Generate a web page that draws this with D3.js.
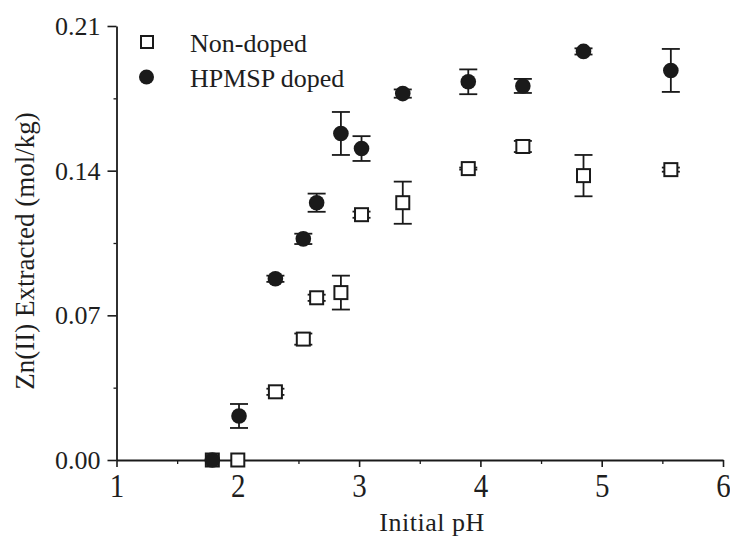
<!DOCTYPE html>
<html>
<head>
<meta charset="utf-8">
<title>Zn(II) extracted vs initial pH</title>
<script src="https://d3js.org/d3.v7.min.js"></script>
<style>
  body { margin: 0; background: #fff; }
  svg text { font-family: "Liberation Serif", "Times New Roman", serif; fill: #1e1e1e; }
</style>
</head>
<body>
<div id="chart"></div>
<script>
// data
const phNon = [1.79, 2.00, 2.31, 2.54, 2.65, 2.85, 3.02, 3.36, 3.90, 4.35, 4.85, 5.57];
const valNon = [0.000, 0.000, 0.033, 0.0585, 0.0785, 0.081, 0.1187, 0.1245, 0.141, 0.1517, 0.1376, 0.1405];
const errNon = [0.000, 0.000, 0.0015, 0.0027, 0.0015, 0.0082, 0.0015, 0.0102, 0.0005, 0.0027, 0.0100, 0.0010];

const phDoped = [1.79, 2.01, 2.31, 2.54, 2.65, 2.85, 3.02, 3.36, 3.90, 4.35, 4.85, 5.57];
const valDoped = [0.000, 0.0213, 0.0877, 0.107, 0.1245, 0.158, 0.1507, 0.1773, 0.183, 0.181, 0.1977, 0.1885];
const errDoped = [0.000, 0.0058, 0.0015, 0.0025, 0.0044, 0.0104, 0.0060, 0.0020, 0.0060, 0.0034, 0.0015, 0.0104];

const xTicks = [1, 2, 3, 4, 5, 6];
const xMinor = [1.5, 2.5, 3.5, 4.5, 5.5];
const yTicks = [0, 0.07, 0.14, 0.21];
const yMinor = [0.035, 0.105, 0.175];
const seriesNames = ["Non-doped", "HPMSP doped"];

const width = 730, height = 537;
const ink = "#1a1a1a";
const serif = "'Liberation Serif', 'Times New Roman', serif";

const svg = d3.select("#chart").append("svg")
    .attr("width", width)
    .attr("height", height)
    .style("background", "#fff");

const x = d3.scaleLinear().domain([1, 6]).range([116.5, 723]);
const y = d3.scaleLinear().domain([0, 0.21]).range([460, 26]);

// minor ticks first so the main axis sits on top
svg.append("g")
    .attr("transform", "translate(0,460)")
    .call(d3.axisBottom(x).tickValues(xMinor).tickSize(4).tickFormat("").tickSizeOuter(0))
    .call(g => g.select(".domain").remove())
    .selectAll("line").attr("stroke", ink).attr("stroke-width", 1.3);

svg.append("g")
    .attr("transform", "translate(116.5,0)")
    .call(d3.axisLeft(y).tickValues(yMinor).tickSize(3).tickFormat("").tickSizeOuter(0))
    .call(g => g.select(".domain").remove())
    .selectAll("line").attr("stroke", ink).attr("stroke-width", 1.3);

const xAxis = svg.append("g")
    .attr("transform", "translate(0,460)")
    .call(d3.axisBottom(x).tickValues(xTicks).tickSize(7).tickSizeOuter(0).tickFormat(d3.format("d")))
    .attr("font-family", serif);
xAxis.select(".domain").attr("stroke", ink).attr("stroke-width", 1.8);
xAxis.selectAll(".tick line").attr("stroke", ink).attr("stroke-width", 1.6);
xAxis.selectAll(".tick text")
    .attr("fill", "#1e1e1e")
    .style("font-family", serif)
    .style("font-size", "29px")
    .attr("y", 0)
    .attr("dy", 0)
    .attr("transform", "translate(0,37) scale(1,1.15)");

const yAxis = svg.append("g")
    .attr("transform", "translate(116.5,0)")
    .call(d3.axisLeft(y).tickValues(yTicks).tickSize(9).tickSizeOuter(0).tickPadding(7).tickFormat(d3.format(".2f")))
    .attr("font-family", serif);
yAxis.select(".domain").attr("stroke", ink).attr("stroke-width", 1.8);
yAxis.selectAll(".tick line").attr("stroke", ink).attr("stroke-width", 1.6);
yAxis.selectAll(".tick text")
    .attr("fill", "#1e1e1e")
    .style("font-family", serif)
    .style("font-size", "26px")
    .attr("dy", "0.33em");

// axis titles
svg.append("text")
    .attr("x", 432)
    .attr("y", 531)
    .attr("text-anchor", "middle")
    .style("font-size", "26px")
    .style("letter-spacing", "0.5px")
    .text("Initial pH");

svg.append("text")
    .attr("transform", "translate(34,251) rotate(-90)")
    .attr("text-anchor", "middle")
    .style("font-size", "27px")
    .text("Zn(II) Extracted (mol/kg)");

function rows(ph, val, err) {
    return ph.map((p, i) => ({ ph: p, v: val[i], e: err[i] }));
}
const nonDoped = rows(phNon, valNon, errNon);
const doped = rows(phDoped, valDoped, errDoped);

function errorBars(data, cls) {
    const g = svg.append("g").attr("class", cls)
        .attr("stroke", ink).attr("stroke-width", 1.8);
    const withErr = data.filter(d => d.e > 0);
    g.selectAll("line.stem").data(withErr).join("line")
        .attr("class", "stem")
        .attr("x1", d => x(d.ph)).attr("x2", d => x(d.ph))
        .attr("y1", d => y(d.v + d.e)).attr("y2", d => y(d.v - d.e));
    g.selectAll("line.top").data(withErr).join("line")
        .attr("class", "top")
        .attr("x1", d => x(d.ph) - 9).attr("x2", d => x(d.ph) + 9)
        .attr("y1", d => y(d.v + d.e)).attr("y2", d => y(d.v + d.e));
    g.selectAll("line.bot").data(withErr).join("line")
        .attr("class", "bot")
        .attr("x1", d => x(d.ph) - 9).attr("x2", d => x(d.ph) + 9)
        .attr("y1", d => y(d.v - d.e)).attr("y2", d => y(d.v - d.e));
}

errorBars(nonDoped, "err-non");
svg.append("g").selectAll("rect").data(nonDoped).join("rect")
    .attr("x", d => x(d.ph) - 6.5)
    .attr("y", d => y(d.v) - 6.5)
    .attr("width", 13).attr("height", 13)
    .attr("fill", "#fff")
    .attr("stroke", ink)
    .attr("stroke-width", 2);

errorBars(doped, "err-doped");
svg.append("g").selectAll("circle").data(doped).join("circle")
    .attr("cx", d => x(d.ph))
    .attr("cy", d => y(d.v))
    .attr("r", 7.8)
    .attr("fill", ink);

// legend
const legend = svg.append("g");
legend.append("rect")
    .attr("x", 141).attr("y", 36).attr("width", 12).attr("height", 12)
    .attr("fill", "#fff").attr("stroke", ink).attr("stroke-width", 2);
legend.append("circle")
    .attr("cx", 146.5).attr("cy", 77).attr("r", 7.5).attr("fill", ink);
legend.selectAll("text").data(seriesNames).join("text")
    .attr("x", 190)
    .attr("y", (d, i) => 52 + i * 35)
    .style("font-size", "26px")
    .text(d => d);
</script>
</body>
</html>
